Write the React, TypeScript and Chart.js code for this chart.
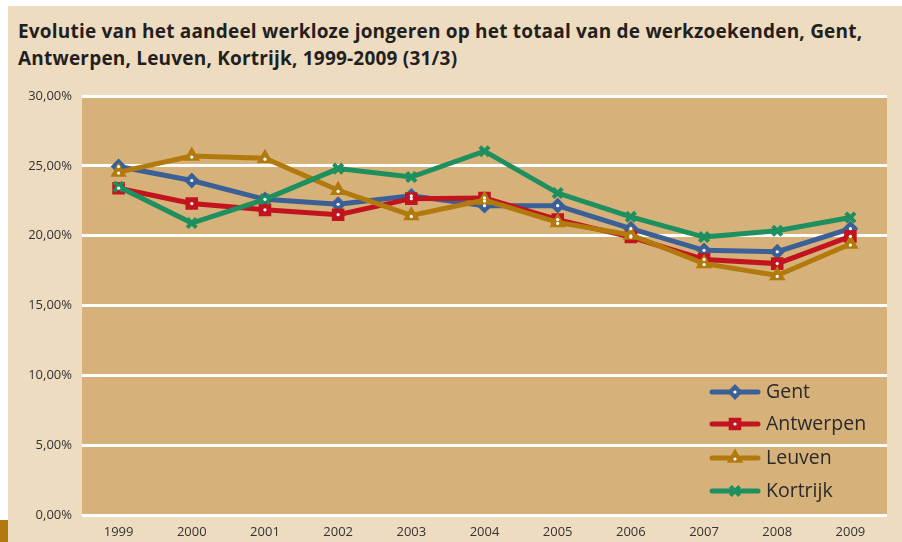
import React, { useEffect, useRef } from "react";
import { Chart, registerables } from "chart.js";
import { drawPoint } from "chart.js/helpers";

Chart.register(...registerables);

const years = ["1999", "2000", "2001", "2002", "2003", "2004", "2005", "2006", "2007", "2008", "2009"];
const gent = [24.95, 23.95, 22.6, 22.25, 22.85, 22.15, 22.15, 20.5, 18.95, 18.85, 20.5];
const antwerpen = [23.4, 22.3, 21.85, 21.5, 22.65, 22.7, 21.15, 19.9, 18.3, 18.0, 19.95];
const leuven = [24.55, 25.7, 25.55, 23.25, 21.45, 22.55, 20.95, 20.05, 18.0, 17.15, 19.4];
const kortrijk = [23.5, 20.9, 22.6, 24.8, 24.2, 26.05, 23.05, 21.35, 19.9, 20.35, 21.3];

const seriesNames = ["Gent", "Antwerpen", "Leuven", "Kortrijk"];
const seriesData = [gent, antwerpen, leuven, kortrijk];
const seriesColors = ["#3B6098", "#C2141E", "#B27A0C", "#1E8F5E"];
const seriesStyles = ["rectRot", "rect", "triangle", "crossRot"];
const seriesRadius = [6.5, 7.5, 7.5, 6.5];

const yMin = 0;
const yMax = 30;
const yStep = 5;

const TITLE_1 = "Evolutie van het aandeel werkloze jongeren op het totaal van de werkzoekenden, Gent,";
const TITLE_2 = "Antwerpen, Leuven, Kortrijk, 1999-2009 (31/3)";

const PLOT_BG = "#D6B179";
const PAGE_BG = "#EEDCC0";

const plotBg = {
  id: "plotBg",
  beforeDraw(chart: any) {
    const { ctx, chartArea } = chart;
    ctx.save();
    ctx.fillStyle = PLOT_BG;
    ctx.fillRect(chartArea.left, chartArea.top, chartArea.right - chartArea.left, chartArea.bottom - chartArea.top);
    ctx.restore();
  },
};

const centerDots = {
  id: "centerDots",
  afterDatasetsDraw(chart: any) {
    const { ctx } = chart;
    ctx.save();
    ctx.fillStyle = "#ffffff";
    chart.data.datasets.forEach((ds: any, i: number) => {
      if (ds.pointStyle === "crossRot") return;
      const meta = chart.getDatasetMeta(i);
      meta.data.forEach((pt: any) => {
        ctx.beginPath();
        ctx.arc(pt.x, pt.y + (ds.pointStyle === "triangle" ? 1 : 0), 1.6, 0, Math.PI * 2);
        ctx.fill();
      });
    });
    ctx.restore();
  },
};

const customLegend = {
  id: "customLegend",
  afterDraw(chart: any) {
    const { ctx, chartArea } = chart;
    const x0 = chartArea.right - 175;
    const x1 = chartArea.right - 129;
    const xm = (x0 + x1) / 2;
    const tx = chartArea.right - 121;
    const rows = [392, 424, 458, 491];
    ctx.save();
    seriesNames.forEach((name, i) => {
      const y = rows[i];
      ctx.strokeStyle = seriesColors[i];
      ctx.lineWidth = 5;
      ctx.lineCap = "round";
      ctx.beginPath();
      ctx.moveTo(x0, y);
      ctx.lineTo(x1, y);
      ctx.stroke();
      ctx.fillStyle = seriesColors[i];
      ctx.strokeStyle = seriesColors[i];
      ctx.lineCap = "butt";
      ctx.lineWidth = seriesStyles[i] === "crossRot" ? 4 : 2;
      drawPoint(ctx, { pointStyle: seriesStyles[i], radius: seriesRadius[i], borderWidth: ctx.lineWidth, rotation: 0 } as any, xm, y);
      if (seriesStyles[i] !== "crossRot") {
        ctx.fillStyle = "#ffffff";
        ctx.beginPath();
        ctx.arc(xm, y + (seriesStyles[i] === "triangle" ? 1 : 0), 1.6, 0, Math.PI * 2);
        ctx.fill();
      }
      ctx.fillStyle = "#2a2a2a";
      ctx.font = '19.5px "Open Sans"';
      ctx.textBaseline = "middle";
      ctx.textAlign = "left";
      ctx.fillText(name, tx, y);
    });
    ctx.restore();
  },
};

export default function App() {
  const canvasRef = useRef<HTMLCanvasElement | null>(null);

  useEffect(() => {
    document.body.style.margin = "0";
    document.body.style.background = "#ffffff";
    const canvas = canvasRef.current;
    if (!canvas) return;
    const chart = new Chart(canvas, {
      type: "line",
      data: {
        labels: years,
        datasets: seriesNames.map((name, i) => ({
          label: name,
          data: seriesData[i],
          borderColor: seriesColors[i],
          backgroundColor: seriesColors[i],
          pointBackgroundColor: seriesColors[i],
          pointBorderColor: seriesColors[i],
          pointStyle: seriesStyles[i] as any,
          pointRadius: seriesRadius[i],
          pointBorderWidth: seriesStyles[i] === "crossRot" ? 4 : 2,
          borderWidth: 5,
          tension: 0,
          fill: false,
          order: seriesNames.length - i,
        })),
      },
      options: {
        animation: false,
        responsive: true,
        maintainAspectRatio: false,
        layout: { padding: { top: 96, right: 15, left: 0, bottom: 0 } },
        plugins: {
          legend: { display: false },
          tooltip: { enabled: false },
          title: { display: false },
        },
        scales: {
          x: {
            type: "category",
            offset: true,
            grid: { display: false },
            border: { display: false },
            ticks: {
              color: "#333333",
              font: { family: "Open Sans", size: 13 },
              padding: 1,
              maxRotation: 0,
            },
            afterFit: (s: any) => {
              s.height = 27;
            },
          },
          y: {
            min: yMin,
            max: yMax,
            grid: { color: "#ffffff", lineWidth: 3, drawTicks: false },
            border: { display: false },
            ticks: {
              stepSize: yStep,
              color: "#333333",
              font: { family: "Open Sans", size: 13 },
              padding: 10,
              callback: (v: any) => Number(v).toFixed(2).replace(".", ",") + "%",
            },
            afterFit: (s: any) => {
              s.width = 82;
            },
          },
        },
      },
      plugins: [plotBg, centerDots, customLegend],
    });
    return () => chart.destroy();
  }, []);

  return (
    <div style={{ position: "absolute", left: 0, top: 0, width: 902, height: 542, background: "#ffffff", overflow: "hidden" }}>
      <div style={{ position: "absolute", left: 8, top: 6, width: 894, height: 536, background: PAGE_BG }} />
      <div
        style={{
          position: "absolute",
          left: 18,
          top: 18,
          fontFamily: '"Open Sans", sans-serif',
          fontWeight: 700,
          fontSize: 19,
          letterSpacing: "0.2px",
          lineHeight: "27px",
          color: "#231F20",
          whiteSpace: "nowrap",
        }}
      >
        {TITLE_1}
        <br />
        {TITLE_2}
      </div>
      <div style={{ position: "absolute", left: 0, top: 520, width: 8, height: 22, background: "#B27A0C" }} />
      <div style={{ position: "absolute", left: 0, top: 0, width: 902, height: 542 }}>
        <canvas ref={canvasRef} />
      </div>
    </div>
  );
}
